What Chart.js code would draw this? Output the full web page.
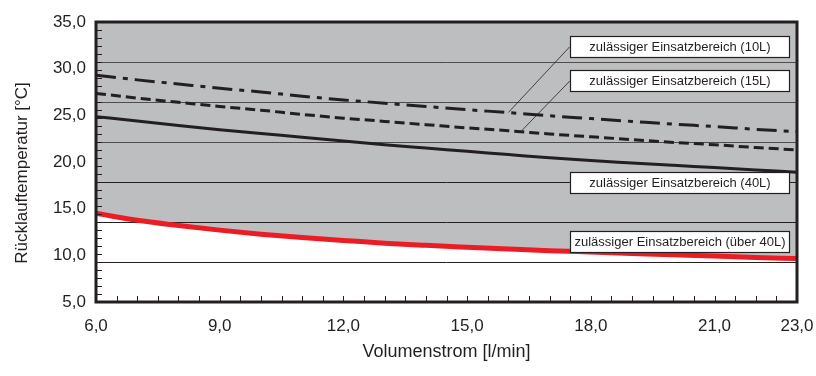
<!DOCTYPE html>
<html>
<head>
<meta charset="utf-8">
<script src="https://cdn.jsdelivr.net/npm/chart.js@4.4.1/dist/chart.umd.min.js"></script>
<style>
  html, body { margin: 0; padding: 0; background: #ffffff; }
  #wrap { width: 816px; height: 376px; }
</style>
</head>
<body>
<div id="wrap"><canvas id="chart" width="816" height="376"></canvas></div>
<script>
// Volumenstrom [l/min]
const flowRate = [6, 7, 8, 9, 10, 11, 12, 13, 14, 15, 16, 17, 18, 19, 20, 21, 22, 23];

// Rücklauftemperatur [°C] je Speichergröße
const temp10L     = [29.3, 28.8, 28.35, 27.9, 27.5, 27.05, 26.65, 26.3, 25.95, 25.6, 25.3, 24.95, 24.65, 24.35, 24.05, 23.8, 23.5, 23.25];
const temp15L     = [27.35, 26.85, 26.4, 25.95, 25.55, 25.1, 24.7, 24.35, 24.0, 23.65, 23.35, 23.0, 22.7, 22.4, 22.1, 21.85, 21.55, 21.3];
const temp40L     = [24.85, 24.4, 23.9, 23.45, 23.05, 22.65, 22.25, 21.85, 21.5, 21.15, 20.8, 20.45, 20.15, 19.9, 19.65, 19.4, 19.15, 18.9];
const tempOver40L = [14.5, 13.75, 13.2, 12.7, 12.27, 11.9, 11.6, 11.3, 11.07, 10.87, 10.68, 10.5, 10.35, 10.2, 10.05, 9.92, 9.78, 9.65];

// Achsenbeschriftung
const xTickValues = [6, 9, 12, 15, 18, 21, 23];
const yTickValues = [5, 10, 15, 20, 25, 30, 35];
const gridValues  = [30.71, 26.43, 22.14, 17.86, 13.57, 9.29];

const seriesLabels = [
  'zulässiger Einsatzbereich (10L)',
  'zulässiger Einsatzbereich (15L)',
  'zulässiger Einsatzbereich (40L)',
  'zulässiger Einsatzbereich (über 40L)'
];

// Beschriftungsfelder: linke Kante (x) und Mitte (y) in Achseneinheiten,
// optional mit Hinweislinie zu einem Punkt auf der Kurve
const labelBoxX = [17.49, 17.49, 17.49, 17.49];
const labelBoxY = [32.35, 28.68, 17.8, 11.48];
const leaderX   = [16.0, 16.3, null, null];
const leaderSeries = [temp10L, temp15L, null, null];

const INK = '#231f20';
const FONT = "'Liberation Sans', Arial, Helvetica, sans-serif";

const toPoints = (ys) => flowRate.map((x, i) => ({ x: x, y: ys[i] }));
const fmt = (v) => Number(v).toFixed(1).replace('.', ',');

function valueAt(series, x) {
  for (let i = 0; i < flowRate.length - 1; i++) {
    if (x >= flowRate[i] && x <= flowRate[i + 1]) {
      const t = (x - flowRate[i]) / (flowRate[i + 1] - flowRate[i]);
      return series[i] + t * (series[i + 1] - series[i]);
    }
  }
  return series[series.length - 1];
}

const decorations = {
  id: 'decorations',
  beforeDatasetsDraw(chart) {
    const { ctx, chartArea: a, scales: { y } } = chart;
    ctx.save();
    ctx.lineWidth = 1;
    gridValues.forEach((v, i) => {
      const py = Math.round(y.getPixelForValue(v)) + 0.5;
      ctx.strokeStyle = i < 3 ? '#4d4d4f' : INK;
      ctx.beginPath();
      ctx.moveTo(a.left, py);
      ctx.lineTo(a.right, py);
      ctx.stroke();
    });
    ctx.restore();
  },
  afterDatasetsDraw(chart) {
    const { ctx, scales: { x, y } } = chart;
    const boxW = 219, boxH = 21;
    ctx.save();
    // Hinweislinien
    ctx.strokeStyle = INK;
    ctx.lineWidth = 0.8;
    seriesLabels.forEach((_, i) => {
      if (leaderX[i] === null) return;
      const bx = x.getPixelForValue(labelBoxX[i]);
      const by = y.getPixelForValue(labelBoxY[i]);
      const px = x.getPixelForValue(leaderX[i]);
      const py = y.getPixelForValue(valueAt(leaderSeries[i], leaderX[i]));
      ctx.beginPath();
      ctx.moveTo(bx, by);
      ctx.lineTo(px, py);
      ctx.stroke();
    });
    // Felder
    ctx.font = '13px ' + FONT;
    ctx.textAlign = 'center';
    ctx.textBaseline = 'middle';
    seriesLabels.forEach((text, i) => {
      const bx = Math.round(x.getPixelForValue(labelBoxX[i])) + 0.5;
      const by = Math.round(y.getPixelForValue(labelBoxY[i]) - boxH / 2) + 0.5;
      ctx.fillStyle = '#ffffff';
      ctx.fillRect(bx, by, boxW, boxH);
      ctx.strokeStyle = INK;
      ctx.lineWidth = 1.2;
      ctx.strokeRect(bx, by, boxW, boxH);
      ctx.fillStyle = INK;
      ctx.fillText(text, bx + boxW / 2, by + boxH / 2 + 0.5);
    });
    ctx.restore();
  },
  afterDraw(chart) {
    const { ctx, chartArea: a, scales: { x, y } } = chart;
    ctx.save();
    // Teilstriche nach innen
    ctx.strokeStyle = INK;
    ctx.lineWidth = 1;
    for (let k = 1; k < 35; k++) {
      const py = Math.round(y.getPixelForValue(5 + k * 30 / 35)) + 0.5;
      ctx.beginPath();
      ctx.moveTo(a.left, py);
      ctx.lineTo(a.left + 6, py);
      ctx.stroke();
    }
    for (let v = 6.5; v < 23; v += 0.5) {
      const px = Math.round(x.getPixelForValue(v)) + 0.5;
      ctx.beginPath();
      ctx.moveTo(px, a.bottom);
      ctx.lineTo(px, a.bottom - 6);
      ctx.stroke();
    }
    // Rahmen
    ctx.lineWidth = 3;
    ctx.strokeRect(a.left, a.top, a.right - a.left, a.bottom - a.top);
    // y-Achsentitel
    ctx.translate(22, (a.top + a.bottom) / 2 + 11);
    ctx.rotate(-Math.PI / 2);
    ctx.font = '17px ' + FONT;
    ctx.fillStyle = INK;
    ctx.textAlign = 'center';
    ctx.textBaseline = 'middle';
    ctx.fillText('Rücklauftemperatur [°C]', 0, 0);
    ctx.restore();
  }
};

const lineBase = { pointRadius: 0, pointHoverRadius: 0, tension: 0.4, cubicInterpolationMode: 'monotone', fill: false };

new Chart(document.getElementById('chart'), {
  type: 'line',
  data: {
    datasets: [
      Object.assign({}, lineBase, {
        label: seriesLabels[3], data: toPoints(tempOver40L),
        borderColor: '#ed1c24', borderWidth: 5,
        fill: 'end', backgroundColor: '#bcbec0'
      }),
      Object.assign({}, lineBase, {
        label: seriesLabels[2], data: toPoints(temp40L),
        borderColor: INK, borderWidth: 3
      }),
      Object.assign({}, lineBase, {
        label: seriesLabels[1], data: toPoints(temp15L),
        borderColor: INK, borderWidth: 3, borderDash: [10, 5]
      }),
      Object.assign({}, lineBase, {
        label: seriesLabels[0], data: toPoints(temp10L),
        borderColor: INK, borderWidth: 3, borderDash: [20, 7, 5, 7]
      })
    ]
  },
  options: {
    responsive: false,
    devicePixelRatio: 1,
    animation: false,
    layout: { padding: { top: 22, right: 19, left: 0, bottom: 0 } },
    plugins: {
      legend: { display: false },
      tooltip: { enabled: false },
      filler: { drawTime: 'beforeDatasetsDraw' }
    },
    scales: {
      x: {
        type: 'linear',
        min: 6, max: 23,
        afterBuildTicks: (s) => { s.ticks = xTickValues.map(v => ({ value: v })); },
        afterFit: (s) => { s.height = 74; s.paddingLeft = 0; s.paddingRight = 0; },
        grid: { display: false, drawTicks: false },
        border: { display: false },
        ticks: {
          autoSkip: false, maxRotation: 0, padding: 14,
          color: INK, font: { family: FONT, size: 17 },
          callback: (v) => fmt(v)
        },
        title: {
          display: true, text: 'Volumenstrom [l/min]', color: INK,
          font: { family: FONT, size: 18 }, padding: { top: 0, bottom: 13 }
        }
      },
      y: {
        type: 'linear',
        min: 5, max: 35,
        afterBuildTicks: (s) => { s.ticks = yTickValues.map(v => ({ value: v })); },
        afterFit: (s) => { s.width = 96; s.paddingTop = 0; s.paddingBottom = 0; },
        grid: { display: false, drawTicks: false },
        border: { display: false },
        ticks: {
          padding: 10, color: INK, font: { family: FONT, size: 17 },
          callback: (v) => fmt(v)
        }
      }
    }
  },
  plugins: [decorations]
});
</script>
</body>
</html>
